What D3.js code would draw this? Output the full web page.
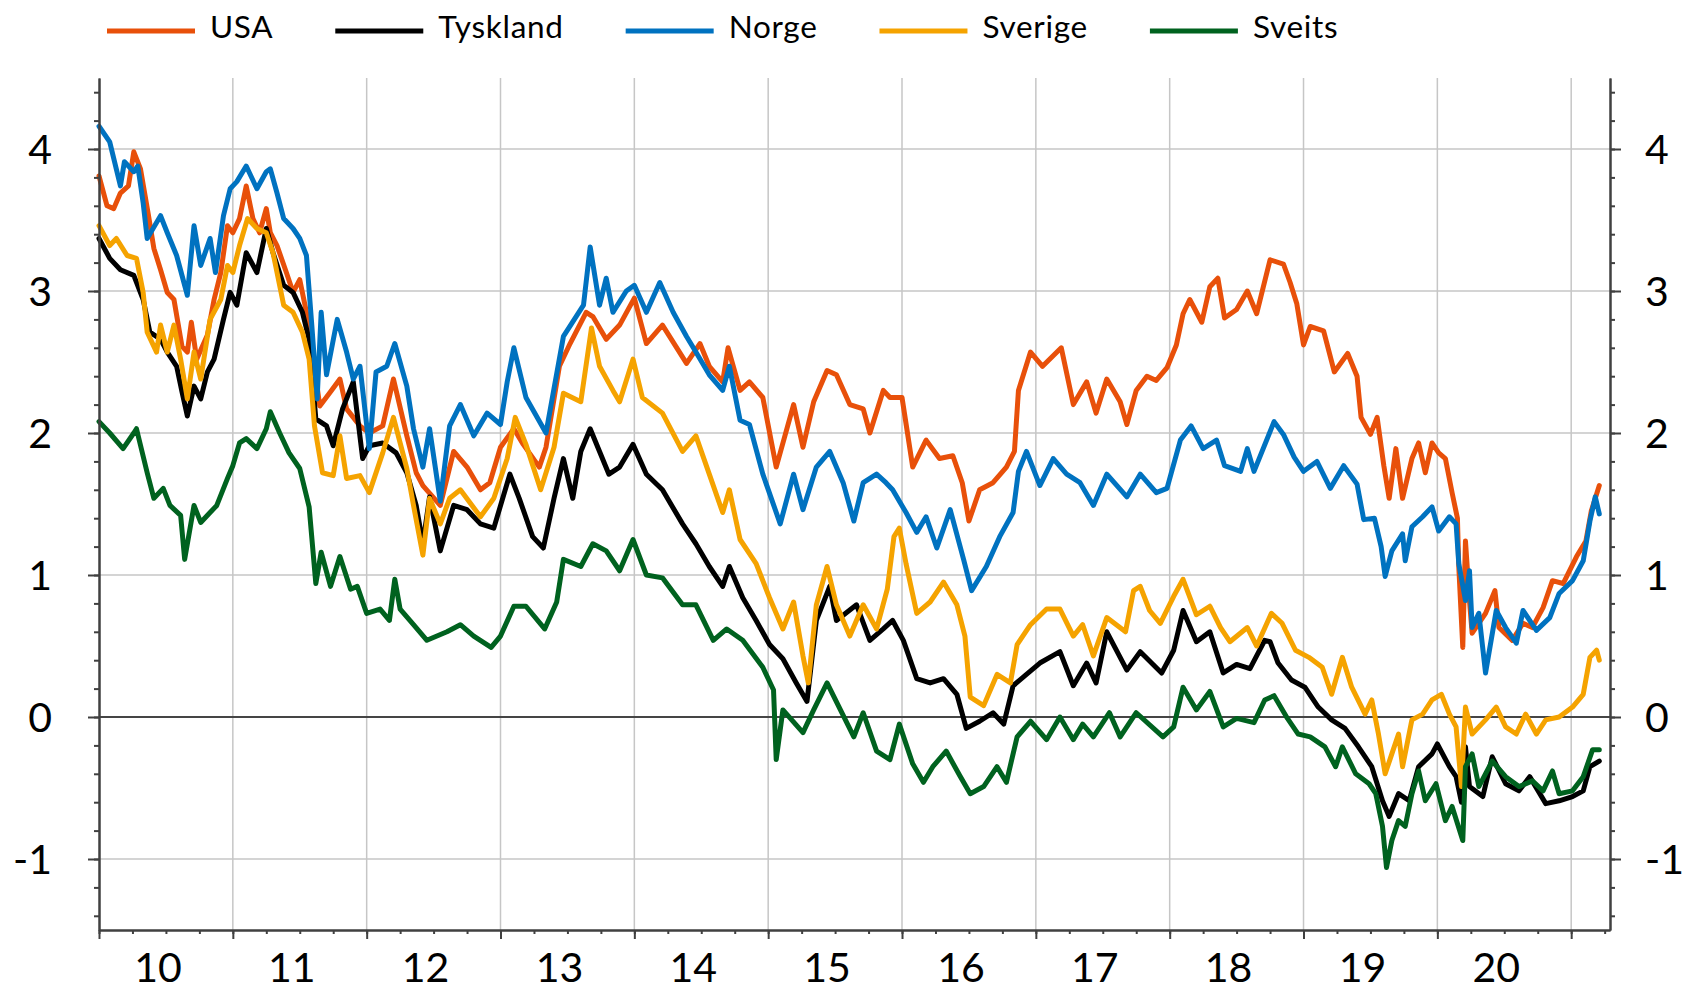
<!DOCTYPE html>
<html>
<head>
<meta charset="utf-8">
<script src="https://cdn.jsdelivr.net/npm/d3@7"></script>
<style>
  body { margin: 0; background: #fff; }
  svg { display: block; }
  text { font-family: Lato, "Open Sans", sans-serif; fill: #000; }
</style>
</head>
<body>
<svg id="chart" width="1686" height="991"></svg>
<script>
// series: [decimal year, yield %]
const usa = [[2010.00,3.81],[2010.06,3.60],[2010.11,3.58],[2010.16,3.69],[2010.22,3.74],[2010.26,3.98],[2010.31,3.86],[2010.37,3.53],[2010.41,3.30],[2010.46,3.15],[2010.51,2.99],[2010.56,2.94],[2010.62,2.61],[2010.66,2.57],[2010.69,2.78],[2010.73,2.52],[2010.81,2.69],[2010.86,2.94],[2010.91,3.13],[2010.96,3.46],
  [2011.00,3.41],[2011.05,3.51],[2011.10,3.74],[2011.15,3.51],[2011.20,3.41],[2011.25,3.58],[2011.28,3.41],[2011.33,3.32],[2011.40,3.13],[2011.45,2.99],[2011.50,3.08],[2011.55,2.85],[2011.60,2.52],[2011.65,2.19],[2011.73,2.29],[2011.80,2.38],[2011.85,2.17],[2011.95,2.05],
  [2012.02,2.00],[2012.12,2.05],[2012.20,2.38],[2012.30,1.98],[2012.37,1.72],[2012.42,1.63],[2012.55,1.49],[2012.65,1.87],[2012.75,1.76],[2012.85,1.60],[2012.92,1.65],
  [2013.00,1.90],[2013.10,2.03],[2013.17,1.92],[2013.29,1.76],[2013.34,1.90],[2013.44,2.47],[2013.52,2.63],[2013.64,2.85],[2013.69,2.82],[2013.79,2.66],[2013.89,2.76],
  [2014.00,2.95],[2014.09,2.63],[2014.21,2.76],[2014.39,2.49],[2014.49,2.63],[2014.56,2.47],[2014.66,2.36],[2014.70,2.60],[2014.79,2.30],[2014.86,2.36],[2014.96,2.25],
  [2015.06,1.76],[2015.19,2.20],[2015.26,1.90],[2015.34,2.22],[2015.44,2.44],[2015.51,2.41],[2015.61,2.20],[2015.71,2.17],[2015.76,2.00],[2015.86,2.30],[2015.91,2.25],
  [2016.00,2.25],[2016.08,1.76],[2016.18,1.95],[2016.28,1.82],[2016.38,1.84],[2016.45,1.65],[2016.50,1.38],[2016.58,1.60],[2016.68,1.65],[2016.78,1.76],[2016.84,1.87],[2016.87,2.30],[2016.96,2.57],
  [2017.05,2.47],[2017.19,2.60],[2017.28,2.20],[2017.38,2.36],[2017.45,2.14],[2017.53,2.38],[2017.63,2.22],[2017.68,2.06],[2017.75,2.30],[2017.83,2.40],[2017.90,2.37],[2017.98,2.46],
  [2018.05,2.62],[2018.10,2.84],[2018.15,2.94],[2018.24,2.78],[2018.30,3.03],[2018.36,3.09],[2018.41,2.81],[2018.50,2.87],[2018.58,3.00],[2018.65,2.84],[2018.75,3.22],[2018.85,3.19],[2018.90,3.06],[2018.95,2.91],
  [2019.00,2.62],[2019.05,2.75],[2019.15,2.72],[2019.23,2.43],[2019.33,2.56],[2019.40,2.40],[2019.43,2.11],[2019.50,1.99],[2019.55,2.11],[2019.60,1.77],[2019.64,1.54],[2019.69,1.89],[2019.74,1.54],[2019.81,1.82],[2019.86,1.93],[2019.91,1.72],[2019.96,1.93],
  [2020.01,1.86],[2020.06,1.82],[2020.11,1.58],[2020.15,1.40],[2020.16,1.06],[2020.19,0.49],[2020.21,1.24],[2020.24,0.82],[2020.26,0.59],[2020.36,0.73],[2020.43,0.89],[2020.46,0.63],[2020.56,0.54],[2020.64,0.66],[2020.71,0.63],[2020.79,0.77],[2020.86,0.96],[2020.94,0.94],
  [2021.04,1.13],[2021.11,1.24],[2021.15,1.45],[2021.21,1.63]];

const tyskland = [[2010.00,3.37],[2010.08,3.23],[2010.16,3.15],[2010.26,3.11],[2010.33,2.94],[2010.38,2.71],[2010.46,2.66],[2010.51,2.57],[2010.58,2.47],[2010.62,2.29],[2010.66,2.12],[2010.71,2.33],[2010.76,2.24],[2010.81,2.43],[2010.86,2.52],[2010.93,2.80],[2010.98,2.99],
  [2011.03,2.90],[2011.10,3.27],[2011.18,3.13],[2011.25,3.44],[2011.30,3.27],[2011.38,3.04],[2011.45,2.99],[2011.52,2.85],[2011.57,2.66],[2011.62,2.10],[2011.70,2.05],[2011.75,1.91],[2011.82,2.17],[2011.90,2.36],[2011.97,1.82],
  [2012.02,1.91],[2012.12,1.93],[2012.22,1.86],[2012.30,1.72],[2012.37,1.49],[2012.42,1.22],[2012.47,1.55],[2012.55,1.17],[2012.65,1.49],[2012.75,1.46],[2012.85,1.36],[2012.95,1.33],
  [2013.07,1.71],[2013.14,1.54],[2013.24,1.27],[2013.32,1.19],[2013.40,1.54],[2013.47,1.82],[2013.54,1.54],[2013.60,1.87],[2013.67,2.03],[2013.74,1.87],[2013.81,1.71],[2013.89,1.76],[2013.99,1.92],
  [2014.09,1.71],[2014.21,1.60],[2014.36,1.36],[2014.46,1.22],[2014.56,1.06],[2014.66,0.92],[2014.71,1.06],[2014.81,0.84],[2014.91,0.68],
  [2015.01,0.51],[2015.11,0.41],[2015.21,0.24],[2015.29,0.11],[2015.36,0.68],[2015.46,0.92],[2015.51,0.68],[2015.66,0.79],[2015.76,0.54],[2015.86,0.62],[2015.93,0.68],
  [2016.01,0.54],[2016.11,0.27],[2016.21,0.24],[2016.31,0.27],[2016.41,0.16],[2016.48,-0.08],[2016.58,-0.03],[2016.68,0.03],[2016.76,-0.05],[2016.83,0.22],[2016.93,0.30],
  [2017.03,0.38],[2017.18,0.46],[2017.28,0.22],[2017.38,0.38],[2017.45,0.24],[2017.53,0.60],[2017.68,0.33],[2017.78,0.46],[2017.94,0.31],
  [2018.03,0.47],[2018.10,0.75],[2018.20,0.53],[2018.30,0.60],[2018.40,0.31],[2018.50,0.37],[2018.60,0.34],[2018.71,0.54],[2018.75,0.53],[2018.81,0.38],[2018.91,0.26],
  [2019.01,0.21],[2019.11,0.07],[2019.21,-0.02],[2019.31,-0.08],[2019.41,-0.21],[2019.51,-0.35],[2019.59,-0.59],[2019.64,-0.70],[2019.71,-0.54],[2019.79,-0.59],[2019.86,-0.35],[2019.96,-0.26],
  [2020.00,-0.19],[2020.09,-0.35],[2020.14,-0.42],[2020.18,-0.60],[2020.21,-0.21],[2020.24,-0.49],[2020.34,-0.56],[2020.41,-0.28],[2020.51,-0.47],[2020.61,-0.52],[2020.69,-0.42],[2020.81,-0.61],[2020.91,-0.59],
  [2021.01,-0.56],[2021.09,-0.52],[2021.14,-0.35],[2021.21,-0.31]];

const norge = [[2010.00,4.16],[2010.08,4.05],[2010.16,3.74],[2010.19,3.91],[2010.26,3.84],[2010.29,3.88],[2010.33,3.62],[2010.36,3.37],[2010.46,3.53],[2010.51,3.41],[2010.58,3.25],[2010.66,2.97],[2010.71,3.46],[2010.76,3.18],[2010.83,3.37],[2010.87,3.13],[2010.93,3.53],[2010.98,3.72],
  [2011.03,3.77],[2011.10,3.88],[2011.18,3.72],[2011.25,3.84],[2011.28,3.86],[2011.33,3.69],[2011.38,3.51],[2011.45,3.44],[2011.50,3.37],[2011.55,3.25],[2011.59,2.76],[2011.63,2.24],[2011.66,2.85],[2011.70,2.41],[2011.78,2.80],[2011.85,2.57],[2011.90,2.38],[2011.95,2.47],
  [2012.02,1.89],[2012.07,2.43],[2012.15,2.47],[2012.21,2.63],[2012.30,2.33],[2012.35,2.03],[2012.42,1.76],[2012.47,2.03],[2012.55,1.52],[2012.62,2.05],[2012.70,2.20],[2012.80,1.98],[2012.90,2.14],
  [2013.00,2.06],[2013.05,2.36],[2013.10,2.60],[2013.19,2.25],[2013.34,2.00],[2013.47,2.68],[2013.62,2.90],[2013.67,3.31],[2013.74,2.90],[2013.79,3.09],[2013.84,2.85],[2013.94,3.00],
  [2014.00,3.04],[2014.09,2.85],[2014.19,3.06],[2014.29,2.85],[2014.39,2.68],[2014.46,2.57],[2014.56,2.41],[2014.66,2.30],[2014.71,2.47],[2014.79,2.09],[2014.86,2.06],[2014.96,1.71],
  [2015.09,1.36],[2015.19,1.71],[2015.26,1.46],[2015.36,1.76],[2015.46,1.87],[2015.56,1.65],[2015.64,1.38],[2015.71,1.65],[2015.81,1.71],[2015.88,1.65],[2015.93,1.60],
  [2016.03,1.44],[2016.11,1.30],[2016.18,1.41],[2016.26,1.19],[2016.36,1.46],[2016.46,1.11],[2016.52,0.89],[2016.63,1.06],[2016.73,1.27],[2016.83,1.44],[2016.87,1.73],[2016.93,1.87],
  [2017.03,1.63],[2017.13,1.82],[2017.23,1.71],[2017.33,1.65],[2017.43,1.49],[2017.53,1.71],[2017.68,1.55],[2017.78,1.71],[2017.90,1.58],[2017.98,1.61],
  [2018.08,1.95],[2018.16,2.05],[2018.25,1.89],[2018.35,1.95],[2018.41,1.77],[2018.53,1.73],[2018.58,1.89],[2018.63,1.73],[2018.78,2.08],[2018.85,1.99],[2018.93,1.83],
  [2019.00,1.73],[2019.10,1.80],[2019.20,1.61],[2019.30,1.77],[2019.40,1.64],[2019.45,1.39],[2019.53,1.40],[2019.58,1.20],[2019.61,0.99],[2019.66,1.17],[2019.74,1.29],[2019.76,1.10],[2019.81,1.34],[2019.89,1.41],[2019.96,1.48],
  [2020.01,1.31],[2020.09,1.41],[2020.14,1.36],[2020.16,1.08],[2020.21,0.82],[2020.24,1.03],[2020.26,0.63],[2020.31,0.73],[2020.36,0.31],[2020.44,0.75],[2020.51,0.63],[2020.59,0.52],[2020.64,0.75],[2020.74,0.61],[2020.84,0.70],[2020.91,0.87],
  [2021.01,0.96],[2021.09,1.10],[2021.14,1.38],[2021.18,1.55],[2021.21,1.43]];

const sverige = [[2010.00,3.46],[2010.08,3.32],[2010.13,3.37],[2010.21,3.25],[2010.28,3.23],[2010.33,2.99],[2010.36,2.71],[2010.43,2.57],[2010.46,2.76],[2010.51,2.57],[2010.56,2.76],[2010.61,2.52],[2010.66,2.24],[2010.71,2.57],[2010.76,2.38],[2010.83,2.80],[2010.91,2.94],[2010.96,3.18],
  [2011.00,3.13],[2011.05,3.32],[2011.11,3.51],[2011.18,3.44],[2011.25,3.41],[2011.30,3.27],[2011.38,2.90],[2011.45,2.85],[2011.52,2.71],[2011.57,2.52],[2011.61,2.05],[2011.67,1.72],[2011.75,1.70],[2011.80,1.98],[2011.85,1.68],[2011.95,1.70],
  [2012.02,1.58],[2012.12,1.86],[2012.20,2.11],[2012.30,1.75],[2012.35,1.49],[2012.42,1.14],[2012.47,1.54],[2012.55,1.36],[2012.62,1.54],[2012.70,1.60],[2012.85,1.41],[2012.95,1.54],
  [2013.05,1.82],[2013.11,2.11],[2013.19,1.92],[2013.30,1.60],[2013.40,1.90],[2013.47,2.28],[2013.60,2.22],[2013.68,2.74],[2013.74,2.47],[2013.84,2.30],[2013.89,2.22],[2013.99,2.52],
  [2014.06,2.25],[2014.21,2.14],[2014.36,1.87],[2014.46,1.98],[2014.56,1.71],[2014.66,1.44],[2014.71,1.60],[2014.79,1.25],[2014.91,1.08],
  [2015.01,0.84],[2015.11,0.62],[2015.19,0.81],[2015.26,0.43],[2015.30,0.24],[2015.36,0.79],[2015.44,1.06],[2015.51,0.79],[2015.61,0.57],[2015.71,0.79],[2015.81,0.62],[2015.89,0.90],[2015.94,1.27],[2015.98,1.33],
  [2016.03,1.08],[2016.11,0.73],[2016.21,0.81],[2016.31,0.95],[2016.41,0.79],[2016.47,0.57],[2016.51,0.14],[2016.61,0.08],[2016.71,0.30],[2016.81,0.24],[2016.86,0.51],[2016.96,0.65],
  [2017.08,0.76],[2017.18,0.76],[2017.28,0.57],[2017.35,0.65],[2017.43,0.43],[2017.53,0.70],[2017.67,0.60],[2017.73,0.89],[2017.78,0.92],[2017.85,0.75],[2017.93,0.66],
  [2018.03,0.85],[2018.10,0.97],[2018.20,0.72],[2018.30,0.78],[2018.38,0.63],[2018.45,0.53],[2018.58,0.63],[2018.65,0.50],[2018.76,0.73],[2018.84,0.66],[2018.94,0.47],
  [2019.04,0.42],[2019.14,0.35],[2019.21,0.16],[2019.29,0.42],[2019.36,0.21],[2019.46,0.02],[2019.51,0.12],[2019.56,-0.12],[2019.61,-0.40],[2019.66,-0.26],[2019.71,-0.12],[2019.74,-0.35],[2019.81,-0.02],[2019.89,0.02],[2019.96,0.12],
  [2020.03,0.16],[2020.09,0.02],[2020.14,-0.07],[2020.18,-0.49],[2020.21,0.07],[2020.26,-0.12],[2020.36,-0.02],[2020.44,0.07],[2020.51,-0.07],[2020.59,-0.12],[2020.66,0.02],[2020.74,-0.12],[2020.81,-0.02],[2020.91,0.00],
  [2021.01,0.07],[2021.09,0.16],[2021.14,0.42],[2021.19,0.47],[2021.21,0.40]];

const sveits = [[2010.00,2.08],[2010.08,2.00],[2010.18,1.89],[2010.26,2.00],[2010.28,2.03],[2010.36,1.72],[2010.41,1.54],[2010.48,1.61],[2010.53,1.49],[2010.61,1.42],[2010.64,1.11],[2010.71,1.49],[2010.76,1.37],[2010.83,1.44],[2010.88,1.49],[2010.96,1.68],
  [2011.00,1.77],[2011.05,1.93],[2011.10,1.96],[2011.18,1.89],[2011.25,2.03],[2011.28,2.15],[2011.35,2.00],[2011.42,1.86],[2011.50,1.75],[2011.57,1.48],[2011.62,0.94],[2011.66,1.16],[2011.73,0.92],[2011.80,1.13],[2011.88,0.90],[2011.93,0.92],
  [2012.00,0.73],[2012.10,0.76],[2012.17,0.68],[2012.21,0.97],[2012.25,0.76],[2012.35,0.65],[2012.45,0.54],[2012.60,0.60],[2012.70,0.65],[2012.80,0.57],[2012.93,0.49],
  [2013.00,0.57],[2013.10,0.78],[2013.19,0.78],[2013.33,0.62],[2013.42,0.81],[2013.47,1.11],[2013.60,1.06],[2013.69,1.22],[2013.79,1.17],[2013.89,1.03],[2013.99,1.25],
  [2014.09,1.00],[2014.21,0.98],[2014.36,0.79],[2014.46,0.79],[2014.59,0.54],[2014.69,0.62],[2014.81,0.54],[2014.96,0.35],
  [2015.04,0.19],[2015.06,-0.30],[2015.11,0.05],[2015.26,-0.11],[2015.34,0.05],[2015.44,0.24],[2015.54,0.05],[2015.64,-0.14],[2015.71,0.03],[2015.81,-0.24],[2015.91,-0.30],[2015.98,-0.05],
  [2016.08,-0.33],[2016.16,-0.46],[2016.23,-0.35],[2016.33,-0.24],[2016.43,-0.41],[2016.51,-0.54],[2016.61,-0.49],[2016.71,-0.35],[2016.78,-0.46],[2016.86,-0.14],[2016.96,-0.03],
  [2017.08,-0.16],[2017.18,0.00],[2017.28,-0.16],[2017.35,-0.05],[2017.43,-0.14],[2017.55,0.03],[2017.63,-0.14],[2017.75,0.03],[2017.95,-0.14],
  [2018.03,-0.07],[2018.10,0.21],[2018.20,0.05],[2018.30,0.18],[2018.40,-0.07],[2018.50,-0.01],[2018.63,-0.04],[2018.71,0.12],[2018.78,0.15],[2018.88,-0.01],[2018.96,-0.12],
  [2019.05,-0.14],[2019.16,-0.21],[2019.24,-0.35],[2019.29,-0.21],[2019.39,-0.40],[2019.49,-0.47],[2019.54,-0.54],[2019.59,-0.77],[2019.62,-1.06],[2019.66,-0.87],[2019.71,-0.73],[2019.76,-0.77],[2019.81,-0.54],[2019.86,-0.38],[2019.91,-0.59],[2019.99,-0.47],
  [2020.06,-0.73],[2020.11,-0.63],[2020.19,-0.87],[2020.21,-0.35],[2020.26,-0.26],[2020.31,-0.49],[2020.41,-0.31],[2020.51,-0.42],[2020.61,-0.49],[2020.71,-0.45],[2020.79,-0.52],[2020.86,-0.38],[2020.91,-0.54],
  [2021.01,-0.52],[2021.09,-0.42],[2021.16,-0.23],[2021.21,-0.23]];

const seriesNames = ["USA", "Tyskland", "Norge", "Sverige", "Sveits"];
const seriesColors = ["#e8500a", "#000000", "#0072c0", "#f5a300", "#00621f"];
const seriesData = [usa, tyskland, norge, sverige, sveits];

const yearTicks = d3.range(2010, 2022);
const yearLabels = ["10", "11", "12", "13", "14", "15", "16", "17", "18", "19", "20"];
const yTicks = [-1, 0, 1, 2, 3, 4];
const yTickLabels = ["-1", "0", "1", "2", "3", "4"];

const svg = d3.select("#chart");
const plotLeft = 99, plotRight = 1610, plotTop = 78, plotBottom = 930;

const x = d3.scaleLinear().domain([2010, 2021.29]).range([plotLeft, plotRight]);
const y = d3.scaleLinear().domain([-1.5, 4.5]).range([plotBottom, plotTop]);

// gridlines
const grid = svg.append("g");
grid.selectAll("line.h").data(yTicks.filter(d => d !== 0)).join("line")
  .attr("class", "h")
  .attr("x1", plotLeft).attr("x2", plotRight)
  .attr("y1", d => y(d)).attr("y2", d => y(d))
  .attr("stroke", "#c6c6c6").attr("stroke-width", 1.5);
grid.selectAll("line.v").data(yearTicks.slice(1)).join("line")
  .attr("class", "v")
  .attr("x1", d => x(d)).attr("x2", d => x(d))
  .attr("y1", plotTop).attr("y2", plotBottom)
  .attr("stroke", "#c6c6c6").attr("stroke-width", 1.5);
grid.append("line")
  .attr("x1", plotLeft).attr("x2", plotRight)
  .attr("y1", y(0)).attr("y2", y(0))
  .attr("stroke", "#454545").attr("stroke-width", 2);

// series
const line = d3.line().x(d => x(d[0])).y(d => y(d[1]));
seriesData.forEach((s, i) => {
  svg.append("path")
    .datum(s)
    .attr("fill", "none")
    .attr("stroke", seriesColors[i])
    .attr("stroke-width", 5)
    .attr("stroke-linejoin", "round")
    .attr("stroke-linecap", "round")
    .attr("d", line);
});

// axes
const axisColor = "#404040";
function styleAxis(g) {
  g.selectAll(".domain").attr("stroke", axisColor).attr("stroke-width", 2);
  g.selectAll(".tick line").attr("stroke", axisColor).attr("stroke-width", 2);
}
function styleLabels(g) {
  g.selectAll("text").style("font-size", "41px").style("font-family", "Lato").attr("fill", "#000");
}
const yLabel = d => yTickLabels[yTicks.indexOf(d)];
const minorY = d3.range(-1.4, 4.5, 0.2).map(v => Math.round(v * 10) / 10);

svg.append("g").attr("transform", `translate(${plotLeft},0)`)
  .call(d3.axisLeft(y).tickValues(minorY).tickSize(5).tickSizeOuter(0).tickFormat(""))
  .call(styleAxis);
svg.append("g").attr("transform", `translate(${plotLeft},0)`)
  .call(d3.axisLeft(y).tickValues(yTicks).tickSize(11).tickSizeOuter(0).tickPadding(36).tickFormat(yLabel))
  .call(styleAxis)
  .call(styleLabels)
  .call(g => g.selectAll("text").attr("dy", "0.36em"));

svg.append("g").attr("transform", `translate(${plotRight},0)`)
  .call(d3.axisRight(y).tickValues(minorY).tickSize(5).tickSizeOuter(0).tickFormat(""))
  .call(styleAxis);
svg.append("g").attr("transform", `translate(${plotRight},0)`)
  .call(d3.axisRight(y).tickValues(yTicks).tickSize(11).tickSizeOuter(0).tickPadding(24).tickFormat(yLabel))
  .call(styleAxis)
  .call(styleLabels)
  .call(g => g.selectAll("text").attr("dy", "0.36em"));

const quarters = d3.range(2010, 2021.3, 0.25);
svg.append("g").attr("transform", `translate(0,${plotBottom})`)
  .call(d3.axisBottom(x).tickValues(quarters).tickSize(4).tickSizeOuter(0).tickFormat(""))
  .call(styleAxis);
svg.append("g").attr("transform", `translate(0,${plotBottom})`)
  .call(d3.axisBottom(x).tickValues(yearTicks).tickSize(9).tickSizeOuter(0).tickFormat(""))
  .call(styleAxis);

// year labels centred in each year band
svg.append("g").attr("transform", `translate(-8.5,${plotBottom})`)
  .call(d3.axisBottom(x).tickValues(yearTicks.slice(0, -1).map(d => d + 0.5)).tickSize(0).tickPadding(0)
    .tickFormat((d, i) => yearLabels[i]))
  .call(g => g.select(".domain").remove())
  .call(styleLabels)
  .call(g => g.selectAll("text").attr("dy", null).attr("y", 52));

// legend
const legend = svg.append("g");
let lx = 107;
seriesNames.forEach((name, i) => {
  const item = legend.append("g");
  item.append("line")
    .attr("x1", lx).attr("x2", lx + 88)
    .attr("y1", 31).attr("y2", 31)
    .attr("stroke", seriesColors[i]).attr("stroke-width", 5);
  const t = item.append("text")
    .attr("x", lx + 103).attr("y", 37.5)
    .style("font-size", "31.5px")
    .style("letter-spacing", "0.7px")
    .text(name);
  lx = lx + 103 + t.node().getComputedTextLength() + 62;
});
</script>
</body>
</html>
